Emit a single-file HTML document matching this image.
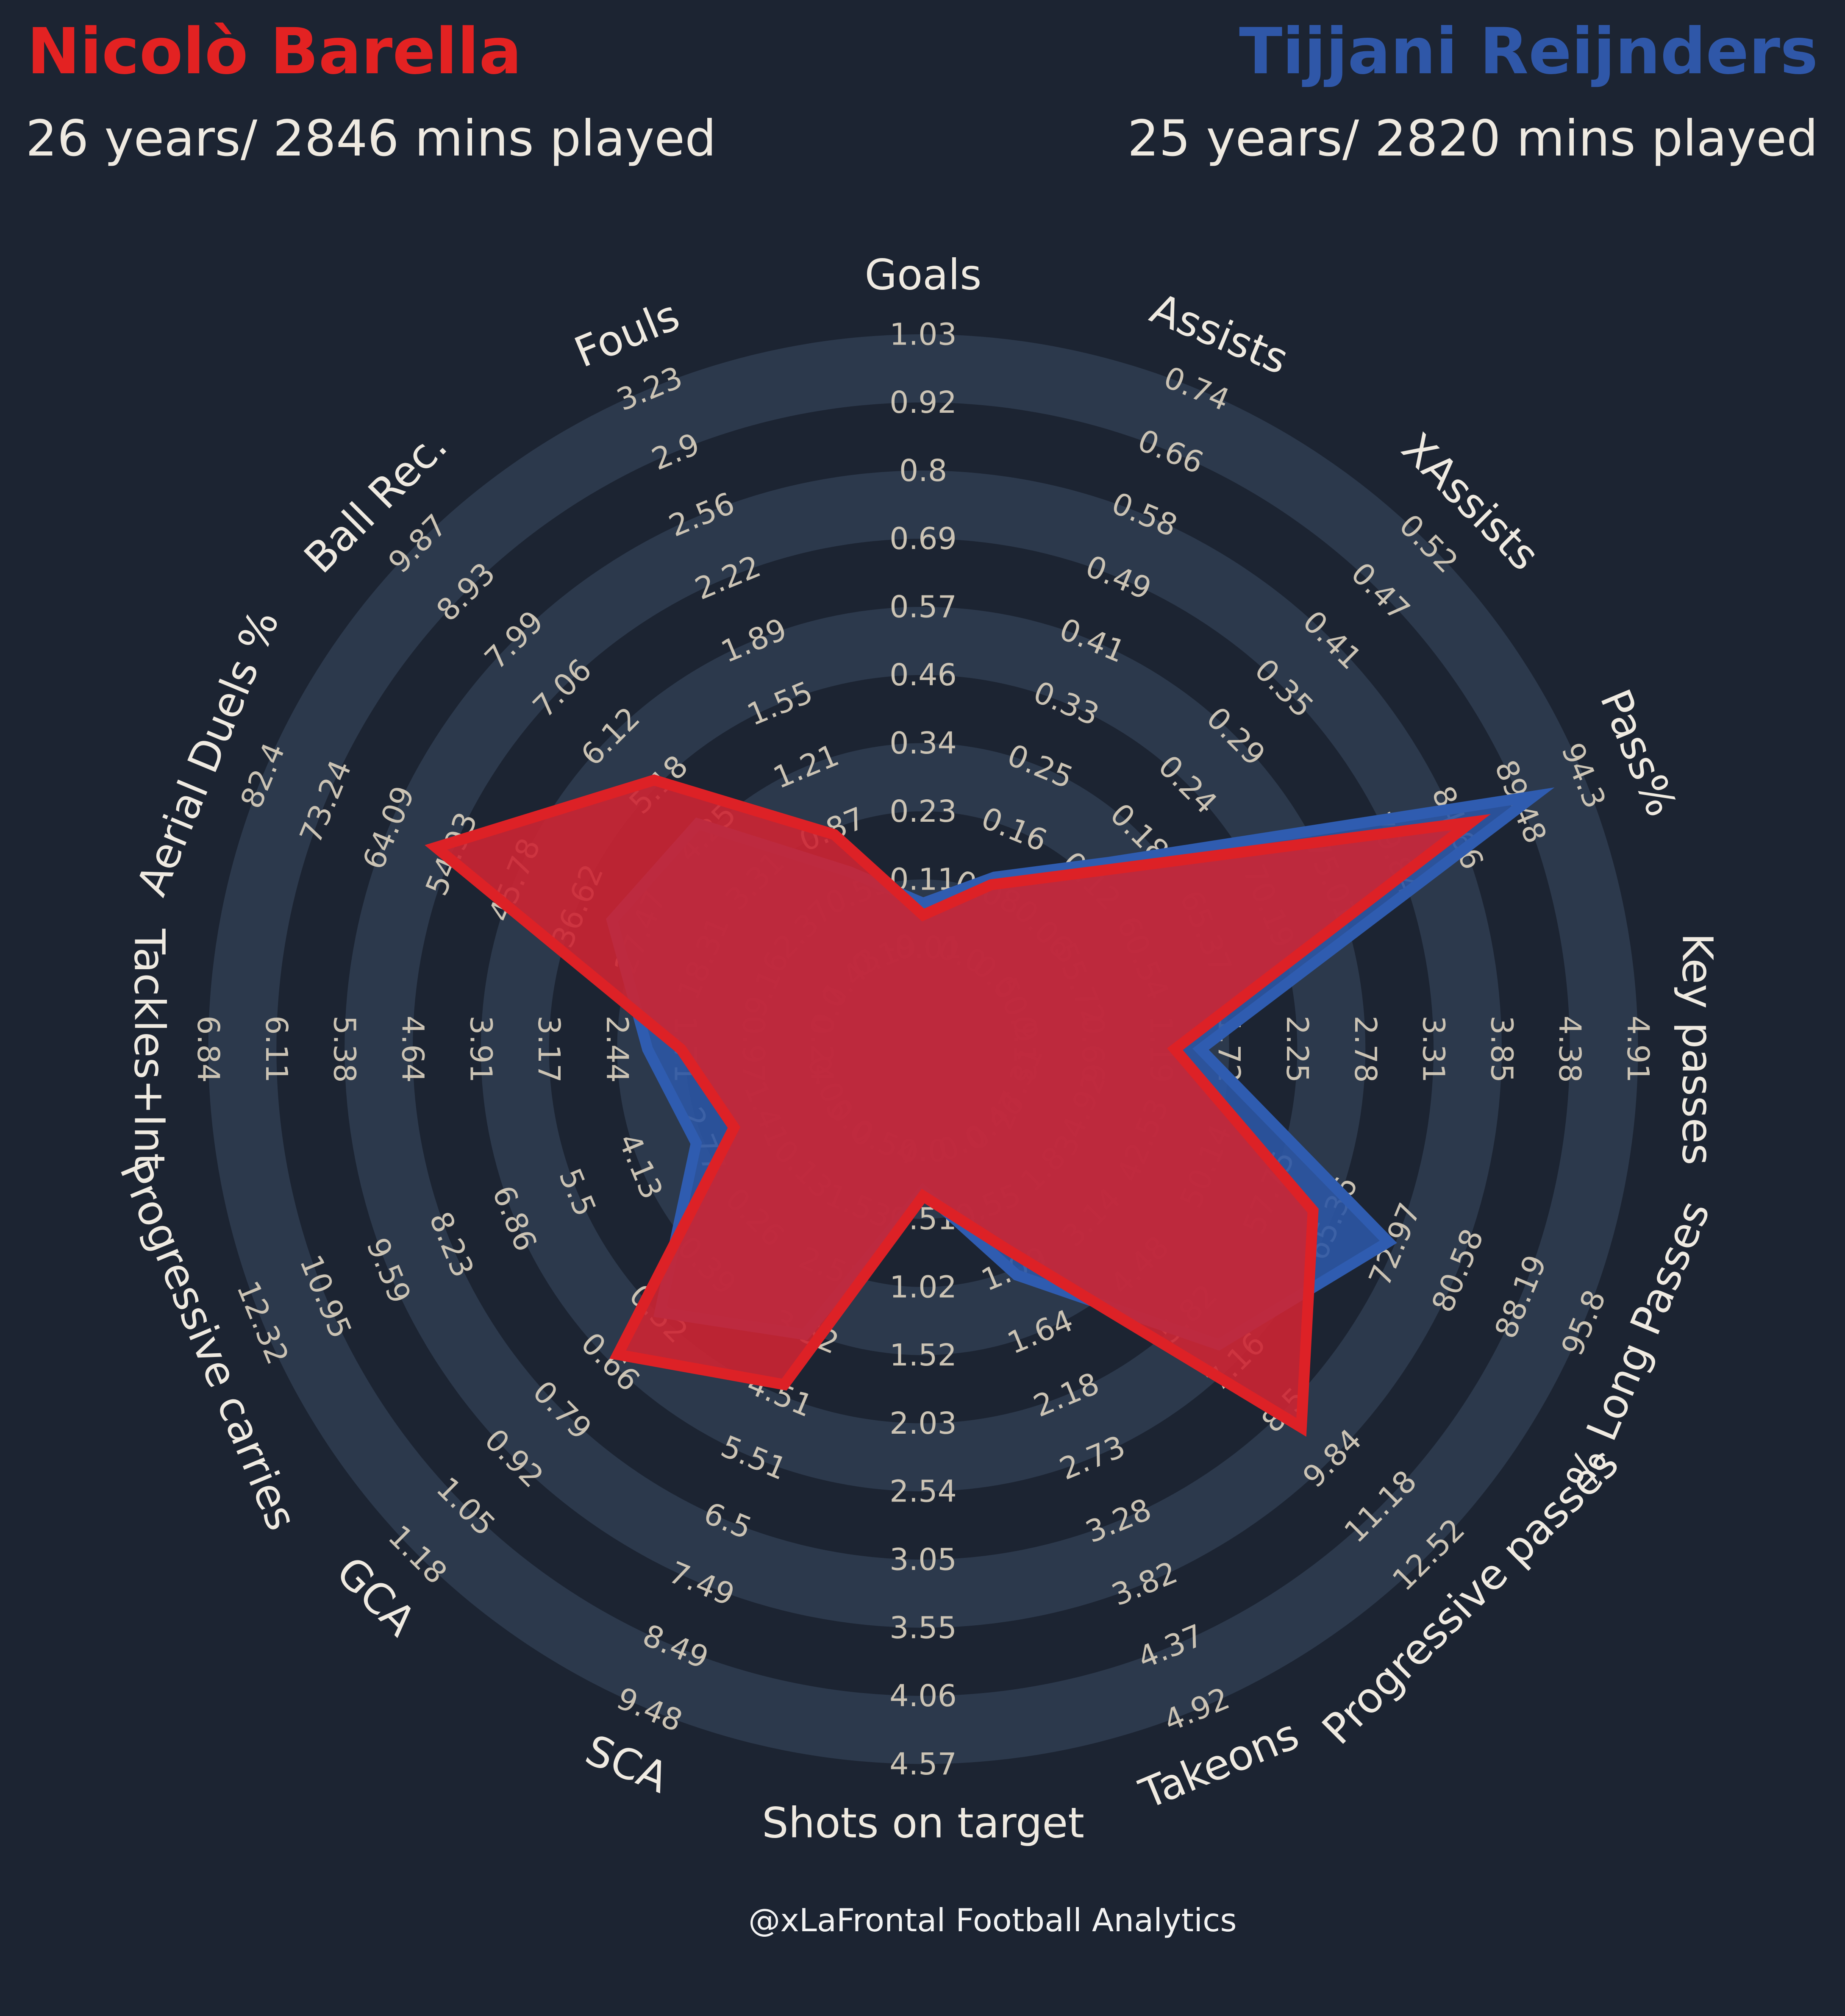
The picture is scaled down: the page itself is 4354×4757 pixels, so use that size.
<!DOCTYPE html>
<html><head><meta charset="utf-8"><style>
html,body{margin:0;padding:0;background:#1c2432;}
svg{display:block;}
text{font-family:"DejaVu Sans","Liberation Sans",sans-serif;}
</style></head>
<body>
<svg id="chart" width="4354" height="4757" viewBox="0 0 1435 1568" preserveAspectRatio="none" xmlns="http://www.w3.org/2000/svg">
<rect x="0" y="0" width="1435" height="1568" fill="#1c2432"/>
<text x="21" y="57" font-size="49.3" font-weight="bold" fill="#e32222">Nicolò Barella</text>
<text x="20" y="121" font-size="38.5" fill="#efeae1">26 years/ 2846 mins played</text>
<text x="1414" y="57" font-size="49.4" font-weight="bold" fill="#2f57a8" text-anchor="end">Tijjani Reijnders</text>
<text x="1414" y="121" font-size="38.5" fill="#efeae1" text-anchor="end">25 years/ 2820 mins played</text>
<g id="rings"></g>
<g id="ticks"></g>
<g id="params"></g>
<g id="polys"></g>
<text x="772" y="1502" font-size="24.8" fill="#f2f2f2" text-anchor="middle">@xLaFrontal Football Analytics</text>
</svg>
<script>
const params = ["Goals","Assists","XAssists","Pass%","Key passes","% Long Passes","Progressive passes","Takeons","Shots on target","SCA","GCA","Progressive carries","Tackles+Int","Aerial Duels %","Ball Rec.","Fouls"];
const barellaValues = [0.05,0.09,0.13,85.7,1.30,63.1,8.98,0.92,0.34,4.35,0.635,2.11,1.75,57.2,5.27,0.84];
const reijndersValues = [0.07,0.10,0.14,90.5,1.50,72.2,6.68,1.15,0.30,3.56,0.52,2.93,2.11,31.6,4.42,0.64];
const tickGoals = ["0.11","0.23","0.34","0.46","0.57","0.69","0.8","0.92","1.03"];
const tickAssists = ["0.08","0.16","0.25","0.33","0.41","0.49","0.58","0.66","0.74"];
const tickXAssists = ["0.06","0.12","0.18","0.24","0.29","0.35","0.41","0.47","0.52"];
const tickPass = ["55.72","60.54","65.37","70.19","75.01","79.84","84.66","89.48","94.3"];
const tickKeyPasses = ["0.66","1.19","1.72","2.25","2.78","3.31","3.85","4.38","4.91"];
const tickLongPasses = ["34.92","42.53","50.14","57.75","65.36","72.97","80.58","88.19","95.8"];
const tickProgPasses = ["1.8","3.14","4.48","5.82","7.16","8.5","9.84","11.18","12.52"];
const tickTakeons = ["0.55","1.09","1.64","2.18","2.73","3.28","3.82","4.37","4.92"];
const tickShots = ["0.51","1.02","1.52","2.03","2.54","3.05","3.55","4.06","4.57"];
const tickSCA = ["1.53","2.53","3.52","4.51","5.51","6.5","7.49","8.49","9.48"];
const tickGCA = ["0.13","0.26","0.39","0.52","0.66","0.79","0.92","1.05","1.18"];
const tickProgCarries = ["1.41","2.77","4.13","5.5","6.86","8.23","9.59","10.95","12.32"];
const tickTackles = ["0.97","1.71","2.44","3.17","3.91","4.64","5.38","6.11","6.84"];
const tickAerial = ["9.16","18.31","27.47","36.62","45.78","54.93","64.09","73.24","82.4"];
const tickBallRec = ["2.37","3.31","4.25","5.18","6.12","7.06","7.99","8.93","9.87"];
const tickFouls = ["0.53","0.87","1.21","1.55","1.89","2.22","2.56","2.9","3.23"];
const tickLabels = [tickGoals,tickAssists,tickXAssists,tickPass,tickKeyPasses,tickLongPasses,tickProgPasses,tickTakeons,tickShots,tickSCA,tickGCA,tickProgCarries,tickTackles,tickAerial,tickBallRec,tickFouls];

const NS = "http://www.w3.org/2000/svg";
const CX = 718, CY = 816, R0 = 79, STEP = 53, LABEL_R = 602;
function mk(tag, attrs, parent){const e=document.createElementNS(NS,tag);for(const k in attrs)e.setAttribute(k,attrs[k]);parent.appendChild(e);return e;}
function angleOf(i){return i*360/params.length;}
function ringR(k){return R0+STEP*k;}
function valueToR(v,i){const lo=parseFloat(tickLabels[i][0]);const hi=parseFloat(tickLabels[i][8]);return ringR(1+(v-lo)/(hi-lo)*8);}
function pt(r,deg){const a=deg*Math.PI/180;return [CX+r*Math.sin(a),CY-r*Math.cos(a)];}
function rot(deg){if(deg<=90)return deg;if(deg<=270)return deg-180;return deg-360;}
function fmt(v){if(Math.abs(v)<0.005)return "0.0";return String(parseFloat(v.toFixed(2)));}

const rings=document.getElementById('rings');
for(let k=9;k>=0;k--){
  const c=mk('circle',{cx:CX,cy:CY,r:ringR(k),fill:(k%2===1)?'#2c394c':'#1c2432'},rings);
  
  
}
const ticks=document.getElementById('ticks');
params.forEach((p,i)=>{
  const ang=angleOf(i);
  const labels=tickLabels[i];
  const lo=parseFloat(labels[0]),hi=parseFloat(labels[8]);
  const all=[fmt(lo-(hi-lo)/8)].concat(labels);
  all.forEach((lab,k)=>{
    const [x,y]=pt(ringR(k),ang);
    const t=mk('text',{x:x,y:y,'font-size':23.5,fill:'#cbc3b4','text-anchor':'middle','dominant-baseline':'central',transform:`rotate(${rot(ang)} ${x} ${y})`},ticks);
    t.textContent=lab;
    
    
  });
});
const pg=document.getElementById('params');
params.forEach((p,i)=>{
  const ang=angleOf(i);
  const [x,y]=pt(LABEL_R,ang);
  const t=mk('text',{x:x,y:y,'font-size':32.5,fill:'#efeae1','text-anchor':'middle','dominant-baseline':'central',transform:`rotate(${rot(ang)} ${x} ${y})`},pg);
  t.textContent=p;
  
  
});
const polys=document.getElementById('polys');
function drawPoly(vals,fill,stroke,name){
  const pts=vals.map((v,i)=>pt(valueToR(v,i),angleOf(i)).join(',')).join(' ');
  const poly=mk('polygon',{points:pts,fill:fill,'fill-opacity':0.9,stroke:stroke,'stroke-width':8.5,'stroke-linejoin':'miter','stroke-miterlimit':10},polys);
  
  
}
drawPoly(reijndersValues,'#2c56a4','#2f5cb0','reijnders-polygon');
drawPoly(barellaValues,'#cd2533','#dd2126','barella-polygon');
</script>
</body></html>
